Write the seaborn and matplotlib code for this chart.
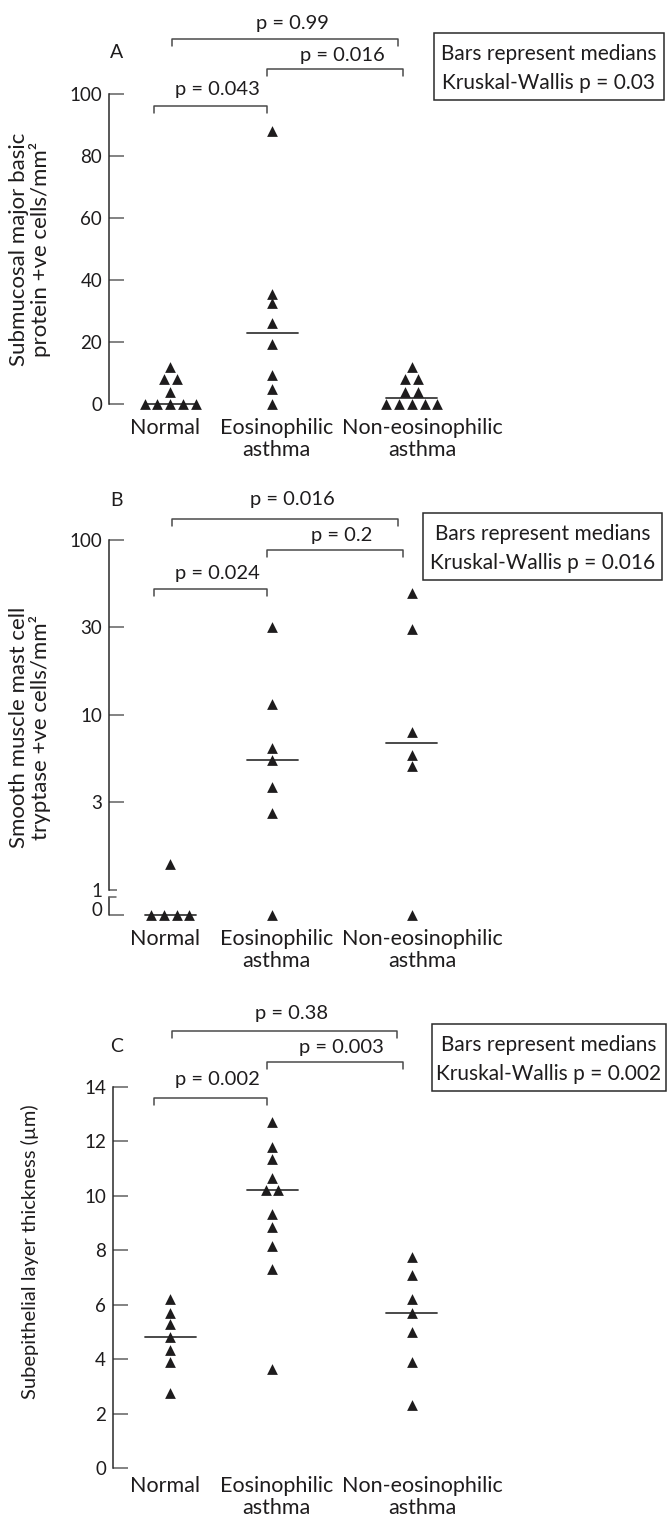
import numpy as np
import pandas as pd
import matplotlib
matplotlib.use("Agg")
import matplotlib.pyplot as plt
import matplotlib.transforms as mtransforms
import seaborn as sns

# ---- data ----
groups = ["Normal", "Eosinophilic\nasthma", "Non-eosinophilic\nasthma"]

# A: submucosal major basic protein +ve cells/mm2
mbp_normal = [0, 0, 0, 0, 0, 4, 8, 8, 12]
mbp_eos = [0, 5, 9.5, 19.5, 26, 32.5, 35.5, 88]
mbp_noneos = [0, 0, 0, 0, 0, 4, 4, 8, 8, 12]

# B: smooth muscle mast cell tryptase +ve cells/mm2
tryp_normal = [0, 0, 0, 0, 1.4]
tryp_eos = [0, 2.75, 3.9, 5.5, 6.5, 11.5, 32]
tryp_noneos = [0, 5.1, 5.9, 8.0, 31, 50]

# C: subepithelial layer thickness (um)
sel_normal = [2.75, 3.9, 4.35, 4.8, 5.3, 5.7, 6.2]
sel_eos = [3.65, 7.3, 8.15, 8.85, 9.35, 10.2, 10.2, 10.65, 11.35, 11.8, 12.7]
sel_noneos = [2.3, 3.9, 5.0, 5.7, 6.2, 7.1, 7.75]

# pairwise p values: (normal vs eos, eos vs non-eos, normal vs non-eos)
p_a = ["p = 0.043", "p = 0.016", "p = 0.99"]
p_b = ["p = 0.024", "p = 0.2", "p = 0.016"]
p_c = ["p = 0.002", "p = 0.003", "p = 0.38"]
kw = ["Kruskal-Wallis p = 0.03", "Kruskal-Wallis p = 0.016", "Kruskal-Wallis p = 0.002"]

ylab_a = "Submucosal major basic\nprotein +ve cells/mm²"
ylab_b = "Smooth muscle mast cell\ntryptase +ve cells/mm²"
ylab_c = "Subepithelial layer thickness (µm)"

# ---- layout ----
W, H = 667, 1519
x_pos = [0, 1, 2.37]          # group centres on the x axis
label_pos = [-0.05, 1.04, 2.47]
ZERO = 0.72                   # where 0 sits on the broken log axis
INK = "#1e1c1d"
TICK = "#606060"

sns.set_style("white")
plt.rcParams["font.family"] = ["Lato", "DejaVu Sans"]
plt.rcParams["text.color"] = INK

fig = plt.figure(figsize=(W / 100, H / 100), dpi=100)


def add_axes(left, right, top, bottom):
    return fig.add_axes([left / W, 1 - bottom / H, (right - left) / W, (bottom - top) / H])


def fy(px):
    return 1 - px / H


def dot_offsets(vals, step=0.125):
    vals = np.asarray(vals, float)
    off = np.zeros(len(vals))
    for v in np.unique(vals):
        idx = np.where(vals == v)[0]
        off[idx] = (np.arange(len(idx)) - (len(idx) - 1) / 2) * step
    return off


def draw_points(ax, data, zero=None):
    frames = []
    for g, vals, xp in zip(groups, data, x_pos):
        y = np.asarray(vals, float)
        if zero is not None:
            y = np.where(y == 0, zero, y)
        frames.append(pd.DataFrame({"group": g, "x": xp + dot_offsets(vals), "y": y}))
    df = pd.concat(frames)
    sns.scatterplot(data=df, x="x", y="y", marker="^", s=60, color=INK,
                    linewidth=0, legend=False, ax=ax, clip_on=False, zorder=3)
    for vals, xp in zip(data, x_pos):
        med = np.median(vals)
        if zero is not None and med == 0:
            med = zero
        ax.plot([xp - 0.25, xp + 0.25], [med, med], color="#3a3a3a", lw=1.3, zorder=2)


def style_axes(ax, xlpad):
    for s in ["top", "right", "bottom"]:
        ax.spines[s].set_visible(False)
    ax.spines["left"].set_color("#2a2a2a")
    ax.spines["left"].set_linewidth(1.1)
    ax.tick_params(axis="y", left=True, direction="in", length=11, width=1.1, color=TICK,
                   labelsize=13.5, pad=5, labelcolor=INK)
    ax.set_xticks(label_pos, groups)
    ax.tick_params(axis="x", bottom=False, length=0, labelsize=15.5, pad=xlpad, labelcolor=INK)
    for t in ax.get_xticklabels():
        t.set_linespacing(1.12)
    ax.set_xlabel("")
    ax.set_ylabel("")


def brackets(ax, pvals, levels, text_levels):
    tr = mtransforms.blended_transform_factory(ax.transData, fig.transFigure)
    spans = [(x_pos[0] - 0.16, x_pos[1] - 0.05),
             (x_pos[1] - 0.05, x_pos[2] - 0.09),
             (x_pos[0] + 0.02, x_pos[2] - 0.14)]
    drop = 7 / H
    for (x0, x1), p, lv, tl in zip(spans, pvals, levels, text_levels):
        y = fy(lv)
        ax.plot([x0, x0, x1, x1], [y - drop, y, y, y - drop], transform=tr,
                color="#4a4a4a", lw=1.1, clip_on=False)
        ax.text((x0 + x1) / 2 + 0.07, fy(tl), p, transform=tr, ha="center",
                va="center", fontsize=14.5)


def legend_box(left, right, top, bottom, kw_text):
    fig.add_artist(plt.Rectangle((left / W, fy(bottom)), (right - left) / W,
                                 (bottom - top) / H, transform=fig.transFigure,
                                 fill=False, lw=1.1, ec="#2a2a2a"))
    cx = (left + right) / 2 / W
    fig.text(cx, fy(top + 21), "Bars represent medians", ha="center", va="center", fontsize=15)
    fig.text(cx, fy(top + 50), kw_text, ha="center", va="center", fontsize=15)


# ---- panel A ----
ax_a = add_axes(109, 527, 81.6, 416.4)
draw_points(ax_a, [mbp_normal, mbp_eos, mbp_noneos])
ax_a.set_xlim(-0.6, 3.5)
ax_a.set_ylim(-4, 104)
ax_a.set_yticks(np.arange(0, 101, 20))
ax_a.spines["left"].set_bounds(0, 100)
style_axes(ax_a, 1)
brackets(ax_a, p_a, [106, 69, 39], [89, 55, 23])
legend_box(434, 664, 33, 100, kw[0])
fig.text(117 / W, fy(53), "A", ha="center", va="center", fontsize=14)
fig.text(30 / W, fy(249), ylab_a, rotation=90, ha="center", va="center",
         fontsize=16, linespacing=1.05)

# ---- panel B ----
ax_b = add_axes(109, 527, 526.1, 928.8)
ax_b.set_yscale("log")
draw_points(ax_b, [tryp_normal, tryp_eos, tryp_noneos], zero=ZERO)
ax_b.set_xlim(-0.6, 3.5)
ax_b.set_ylim(0.6, 120)
ax_b.set_yticks([ZERO, 10 ** 0.5, 10, 10 ** 1.5, 100], ["0", "3", "10", "30", "100"])
ax_b.set_yticks([1], ["1"], minor=True)
ax_b.spines["left"].set_bounds(1, 100)
style_axes(ax_b, 0)
ax_b.tick_params(axis="y", which="minor", left=True, direction="in", length=5.5, width=1.1,
                 color=TICK, labelsize=13.5, pad=5)
# lower stub of the broken axis
trb = mtransforms.blended_transform_factory(ax_b.transAxes, ax_b.transData)
ax_b.plot([0, 0], [ZERO, 0.91], transform=trb, color="#2a2a2a", lw=1.1, clip_on=False)
ax_b.plot([0, 0.017], [0.91, 0.91], transform=trb, color=TICK, lw=1.1, clip_on=False)
lab0 = ax_b.get_yticklabels()[0]
lab0.set_transform(lab0.get_transform() + mtransforms.ScaledTranslation(0, 6 / 100, fig.dpi_scale_trans))
brackets(ax_b, p_b, [589, 550, 519], [573, 536, 500])
legend_box(423, 662, 513, 580, kw[1])
fig.text(117 / W, fy(500), "B", ha="center", va="center", fontsize=14)
fig.text(30 / W, fy(727), ylab_b, rotation=90, ha="center", va="center",
         fontsize=16, linespacing=1.05)

# ---- panel C ----
ax_c = add_axes(113, 527, 1076.1, 1478.9)
draw_points(ax_c, [sel_normal, sel_eos, sel_noneos])
ax_c.set_xlim(-0.56, 3.5)
ax_c.set_ylim(-0.4, 14.4)
ax_c.set_yticks(np.arange(0, 15, 2))
ax_c.spines["left"].set_bounds(0, 14)
style_axes(ax_c, -2)
brackets(ax_c, p_c, [1098, 1062, 1031], [1079, 1047, 1013])
legend_box(432, 666, 1024, 1091, kw[2])
fig.text(117 / W, fy(1047), "C", ha="center", va="center", fontsize=14)
fig.text(30 / W, fy(1252), ylab_c, rotation=90, ha="center", va="center", fontsize=14.5)

fig.savefig("out.png", dpi=100)
